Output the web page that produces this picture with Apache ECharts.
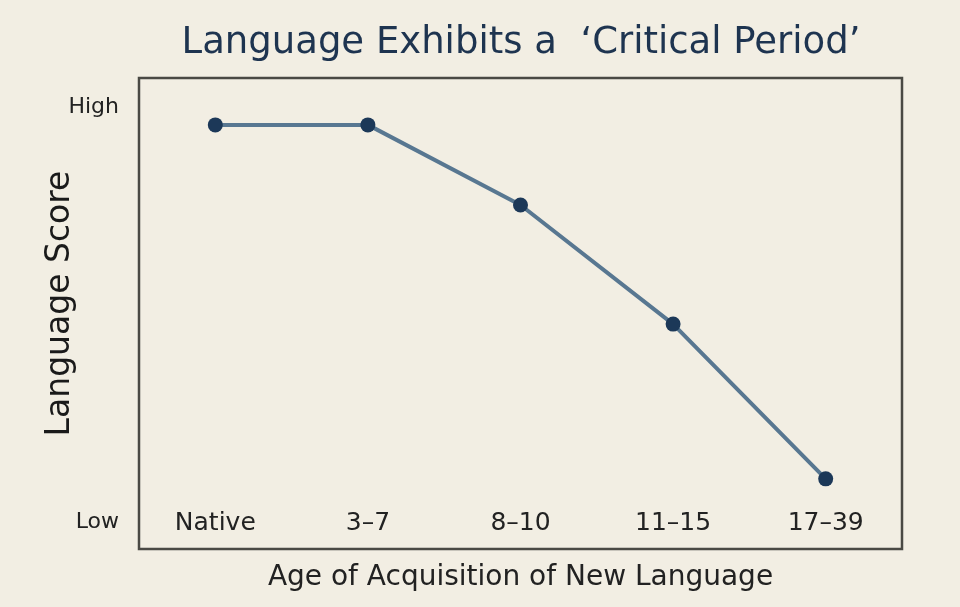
<!DOCTYPE html>
<html>
<head>
<meta charset="utf-8">
<script src="https://cdn.jsdelivr.net/npm/echarts@6/dist/echarts.min.js"></script>
<style>
html,body{margin:0;padding:0;background:#f2eee3;}
#chart{width:960px;height:607px;}
</style>
</head>
<body>
<div id="chart"></div>
<script>
const categories = ['Native', '3–7', '8–10', '11–15', '17–39'];
const scores = [95.7, 95.7, 76.4, 47.7, 10.4];
const yTickValues = [0, 100];
const yTickLabels = ['Low', 'High'];

const FONT = '"DejaVu Sans", sans-serif';
const chart = echarts.init(document.getElementById('chart'));
chart.setOption({
  backgroundColor: '#f2eee3',
  animation: false,
  title: {
    text: "Language Exhibits a  \u2018Critical Period\u2019",
    left: 516, top: 20, textAlign: 'center',
    textStyle: { fontFamily: FONT, fontSize: 37, fontWeight: 'normal', color: '#1e3450' }
  },
  grid: {
    left: 139, right: 58, top: 78, bottom: 58,
    show: true, borderColor: '#4a4944', borderWidth: 2.5, backgroundColor: 'transparent'
  },
  xAxis: {
    type: 'category', data: categories, boundaryGap: true,
    axisLine: { show: false }, axisTick: { show: false },
    axisLabel: { inside: true, margin: 13, fontFamily: FONT, fontSize: 25, color: '#222' },
    name: 'Age of Acquisition of New Language', nameLocation: 'middle', nameGap: 15,
    nameTextStyle: { fontFamily: FONT, fontSize: 28, color: '#222' }
  },
  yAxis: {
    type: 'value', min: -6.5, max: 107,
    splitLine: { show: false }, axisLine: { show: false }, axisTick: { show: false },
    axisLabel: {
      customValues: yTickValues, margin: 20, fontFamily: FONT, fontSize: 22, color: '#222',
      formatter: v => yTickLabels[yTickValues.indexOf(v)] ?? ''
    },
    name: 'Language Score', nameLocation: 'middle', nameGap: 62, nameMoveOverlap: false,
    nameTextStyle: { fontFamily: FONT, fontSize: 33, color: '#1a1a1a', padding: [0, 0, 0, 20] }
  },
  series: [{
    type: 'line', data: scores,
    symbol: 'circle', symbolSize: 15,
    lineStyle: { color: '#587791', width: 4 },
    itemStyle: { color: '#1c3858' }
  }]
});
</script>
</body>
</html>
